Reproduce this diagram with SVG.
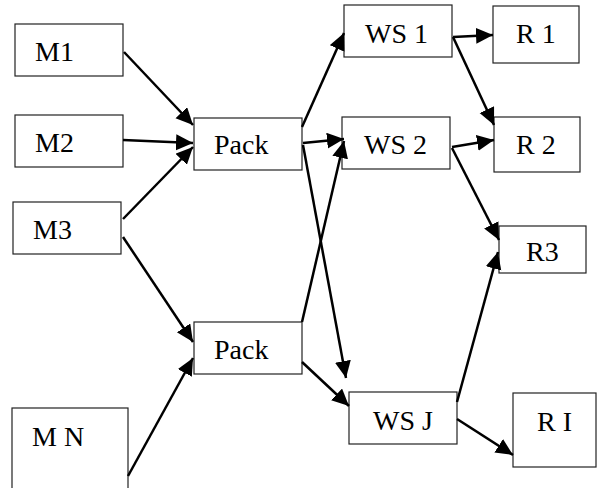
<svg xmlns="http://www.w3.org/2000/svg" width="597" height="488" viewBox="0 0 597 488">
<style>
  .box { fill: #ffffff; stroke: #222222; stroke-width: 1.2; }
  text { font-family: 'Liberation Serif', 'Times New Roman', serif; font-size: 28px; fill: #000000; }
  .edge { stroke: #000000; stroke-width: 2.5; fill: none; marker-end: url(#arrow); }
</style>
<defs>
  <marker id="arrow" markerUnits="userSpaceOnUse" markerWidth="20" markerHeight="18" refX="17" refY="8" orient="auto">
    <path d="M0,0 L17,8 L0,16 z" fill="#000000"/>
  </marker>
</defs>
<rect width="597" height="488" fill="#ffffff"/>
<g id="M1"><rect class="box" x="15" y="24" width="108" height="52"/><text x="35" y="61">M1</text></g>
<g id="M2"><rect class="box" x="15" y="115" width="108" height="52"/><text x="35" y="152">M2</text></g>
<g id="M3"><rect class="box" x="13" y="202" width="108" height="52"/><text x="33" y="239">M3</text></g>
<g id="MN"><rect class="box" x="12" y="408" width="116" height="90"/><text x="32" y="446">M N</text></g>
<g id="Pack1"><rect class="box" x="194" y="118" width="108" height="52"/><text x="214" y="154">Pack</text></g>
<g id="Pack2"><rect class="box" x="194" y="322" width="108" height="52"/><text x="214" y="359">Pack</text></g>
<g id="WS1"><rect class="box" x="344" y="5" width="108" height="52"/><text x="365" y="43">WS 1</text></g>
<g id="WS2"><rect class="box" x="342" y="117" width="108" height="52"/><text x="364" y="154">WS 2</text></g>
<g id="WSJ"><rect class="box" x="349" y="392" width="108" height="52"/><text x="373" y="430">WS J</text></g>
<g id="R1"><rect class="box" x="493" y="6" width="86" height="57"/><text x="516" y="43">R 1</text></g>
<g id="R2"><rect class="box" x="494" y="117" width="86" height="55"/><text x="516" y="154">R 2</text></g>
<g id="R3"><rect class="box" x="499" y="226" width="87" height="47"/><text x="526" y="261">R3</text></g>
<g id="RI"><rect class="box" x="513" y="393" width="83" height="74"/><text x="537" y="431">R I</text></g>
<g id="connectors">
  <line class="edge" x1="124" y1="52" x2="193" y2="125"/>
  <line class="edge" x1="123" y1="140" x2="193" y2="143"/>
  <line class="edge" x1="123" y1="219" x2="193" y2="147"/>
  <line class="edge" x1="123" y1="237" x2="193" y2="342"/>
  <line class="edge" x1="128" y1="476" x2="193" y2="358"/>
  <line class="edge" x1="302" y1="127" x2="344" y2="33"/>
  <line class="edge" x1="303" y1="143" x2="344" y2="139"/>
  <line class="edge" x1="303" y1="145" x2="346" y2="378"/>
  <line class="edge" x1="302" y1="322" x2="344" y2="141"/>
  <line class="edge" x1="302" y1="362" x2="349" y2="406"/>
  <line class="edge" x1="453" y1="37" x2="493" y2="35"/>
  <line class="edge" x1="453" y1="37" x2="494" y2="125"/>
  <line class="edge" x1="452" y1="147" x2="494" y2="140"/>
  <line class="edge" x1="452" y1="148" x2="499" y2="240"/>
  <line class="edge" x1="457" y1="402" x2="498" y2="252"/>
  <line class="edge" x1="457" y1="419" x2="513" y2="455"/>
</g>
</svg>
